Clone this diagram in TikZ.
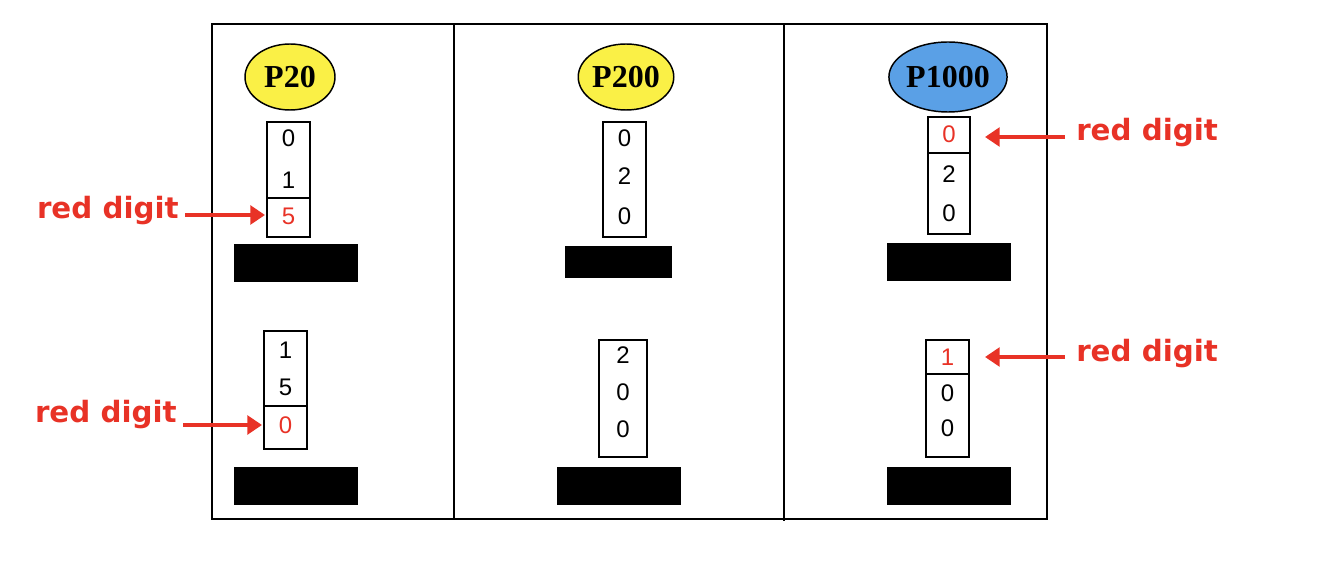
\documentclass[tikz,border=0pt]{standalone}
\usepackage{fontspec}
\setmainfont{Liberation Serif}
\newfontfamily\lblfont{DejaVu Sans}
\newfontfamily\digfont{Liberation Sans}
\usetikzlibrary{arrows.meta,shapes.geometric}
\definecolor{rd}{RGB}{232,50,38}
\definecolor{yl}{RGB}{250,240,70}
\definecolor{bl}{RGB}{90,160,230}
\begin{document}
\begin{tikzpicture}[x=0.75pt,y=-0.75pt,
  ell/.style={draw,line width=1.1pt,ellipse,inner sep=0,font=\bfseries\fontsize{24}{24}\selectfont},
  dig/.style={font=\digfont\fontsize{18}{18}\selectfont},
  rdig/.style={dig,text=rd},
  bar/.style={fill=black},
  box/.style={draw,line width=0.9pt},
  lbl/.style={text=rd,font=\lblfont\bfseries\fontsize{22}{22}\selectfont},
  arr/.style={draw=rd,line width=3.5pt,-{Triangle[length=11pt,width=14pt]}}]
\useasboundingbox (0,0) rectangle (1334,566);
\draw[line width=1pt] (212,24) rectangle (1047,519);
\draw[line width=1pt] (454,24) -- (454,519) (784,24) -- (784,521);
% ellipses
\node[ell,fill=yl,minimum width=67.5pt,minimum height=49.5pt] (p20) at (290,77) {P20};
\node[ell,fill=yl,minimum width=67.5pt,minimum height=49.5pt] (p200) at (626,77) {P200};
\node[ell,fill=bl,minimum width=85.5pt,minimum height=52.5pt] (p1000) at (948,77) {P1000};
% boxes top
\draw[box] (267,122) rectangle (310,237); \draw[box] (267,198)--(310,198);
\node[dig] (a1) at (288.5,138) {0}; \node[dig] (a2) at (288.5,180) {1}; \node[rdig] (a3) at (288.5,216) {5};
\draw[box] (603,122) rectangle (646,237);
\node[dig] (b1) at (624.5,138) {0}; \node[dig] (b2) at (624.5,176) {2}; \node[dig] (b3) at (624.5,216) {0};
\draw[box] (928,117) rectangle (970,234); \draw[box] (928,153)--(970,153);
\node[rdig] (c1) at (949,134) {0}; \node[dig] (c2) at (949,174) {2}; \node[dig] (c3) at (949,213) {0};
% bars top
\fill[bar] (234,244) rectangle (358,282);
\fill[bar] (565,246) rectangle (672,278);
\fill[bar] (887,243) rectangle (1011,281);
% boxes bottom
\draw[box] (264,331) rectangle (307,449); \draw[box] (264,406)--(307,406);
\node[dig] (d1) at (285.5,350) {1}; \node[dig] (d2) at (285.5,387) {5}; \node[rdig] (d3) at (285.5,425) {0};
\draw[box] (599,340) rectangle (647,457);
\node[dig] (e1) at (623,355) {2}; \node[dig] (e2) at (623,392) {0}; \node[dig] (e3) at (623,429) {0};
\draw[box] (926,340) rectangle (969,457); \draw[box] (926,374)--(969,374);
\node[rdig] (f1) at (947.5,357) {1}; \node[dig] (f2) at (947.5,393) {0}; \node[dig] (f3) at (947.5,428) {0};
% bars bottom
\fill[bar] (234,467) rectangle (358,505);
\fill[bar] (557,467) rectangle (681,505);
\fill[bar] (887,467) rectangle (1011,505);
% labels and arrows
\node[lbl,anchor=east,inner sep=0] (l1) at (179,211) {red digit};
\coordinate (t1) at (265,215);
\draw[arr] (185,215) -- (t1);
\node[lbl,anchor=east,inner sep=0] (l2) at (177,415) {red digit};
\coordinate (t2) at (262,425);
\draw[arr] (183,425) -- (t2);
\node[lbl,anchor=west,inner sep=0] (l3) at (1076,133) {red digit};
\coordinate (t3) at (985,137);
\draw[arr] (1065,137) -- (t3);
\node[lbl,anchor=west,inner sep=0] (l4) at (1076,354) {red digit};
\coordinate (t4) at (985,357);
\draw[arr] (1065,357) -- (t4);
\end{tikzpicture}
\end{document}
